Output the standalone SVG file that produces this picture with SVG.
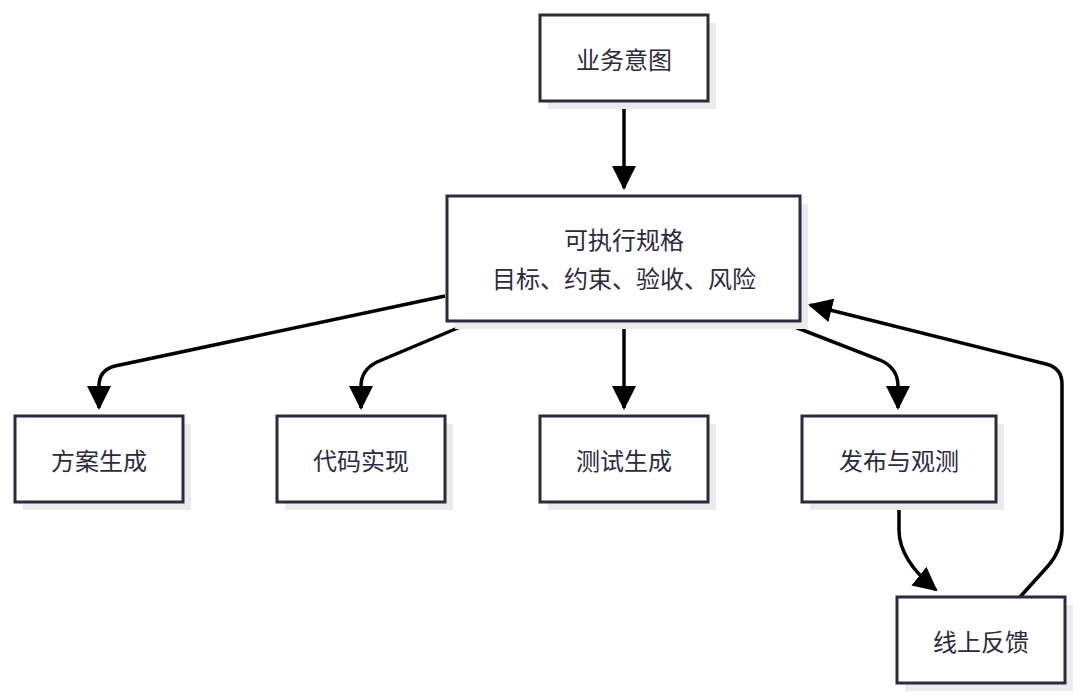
<svg xmlns="http://www.w3.org/2000/svg" width="1080" height="698" viewBox="0 0 1080 698">
<defs>
<style>
.box{fill:#fff;stroke:#2b2b40;stroke-width:3}
.sh{fill:#ebebeb}
.t{font-family:"Noto Sans CJK SC","Noto Sans",sans-serif;font-size:24px;fill:#2b2b40;text-anchor:middle;dominant-baseline:central}
.c{fill:none;stroke:#000;stroke-width:3.5}
</style>
<marker id="ah" markerUnits="userSpaceOnUse" markerWidth="24" markerHeight="24" viewBox="0 0 24 24" refX="22" refY="12" orient="auto"><path d="M0 0L24 12L0 24z" fill="#000"/></marker>
</defs>
<rect width="1080" height="698" fill="#fff"/>
<g id="connectors">
<path class="c" marker-end="url(#ah)" d="M624 101V188"/>
<path class="c" marker-end="url(#ah)" d="M445 296L115 366Q99 370 99 386V408"/>
<path class="c" marker-end="url(#ah)" d="M472 322L377 362Q361 370 361 386V408"/>
<path class="c" marker-end="url(#ah)" d="M624 321V408"/>
<path class="c" marker-end="url(#ah)" d="M782 322L880 360Q898 368 898 386V408"/>
<path class="c" marker-end="url(#ah)" d="M899 502V530Q899 560 936 590"/>
<path class="c" marker-end="url(#ah)" d="M1020 597L1048 566Q1062 550 1062 530V384Q1062 368 1046 364L810 305"/>
</g>
<g id="n1"><rect class="sh" x="548" y="23" width="168" height="86"/><rect class="box" x="540" y="15" width="168" height="86"/><text class="t" x="624" y="58">业务意图</text></g>
<g id="n2"><rect class="sh" x="455" y="204" width="353" height="125"/><rect class="box" x="447" y="196" width="353" height="125"/><text class="t" x="624" y="238">可执行规格</text><text class="t" x="624" y="277">目标、约束、验收、风险</text></g>
<g id="n3"><rect class="sh" x="23" y="424" width="168" height="86"/><rect class="box" x="15" y="416" width="168" height="86"/><text class="t" x="99" y="459">方案生成</text></g>
<g id="n4"><rect class="sh" x="285" y="424" width="168" height="86"/><rect class="box" x="277" y="416" width="168" height="86"/><text class="t" x="361" y="459">代码实现</text></g>
<g id="n5"><rect class="sh" x="548" y="424" width="168" height="86"/><rect class="box" x="540" y="416" width="168" height="86"/><text class="t" x="624" y="459">测试生成</text></g>
<g id="n6"><rect class="sh" x="810" y="424" width="194" height="86"/><rect class="box" x="802" y="416" width="194" height="86"/><text class="t" x="899" y="459">发布与观测</text></g>
<g id="n7"><rect class="sh" x="905" y="605" width="168" height="86"/><rect class="box" x="897" y="597" width="168" height="86"/><text class="t" x="981" y="640">线上反馈</text></g>
</svg>
